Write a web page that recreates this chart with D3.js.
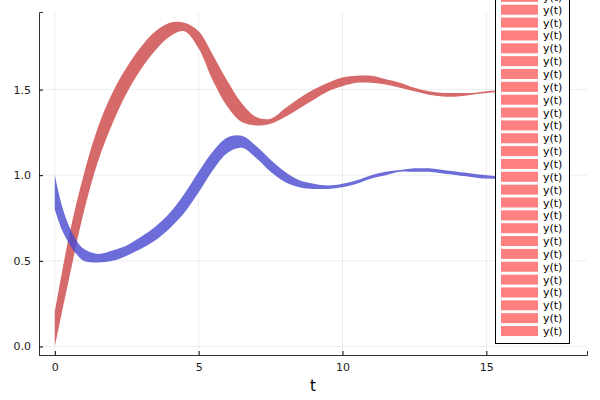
<!DOCTYPE html>
<html><head><meta charset="utf-8">
<script src="https://cdn.jsdelivr.net/npm/d3@7"></script>
<style>body{margin:0;background:#fff}text{font-family:"DejaVu Sans",sans-serif}</style>
</head><body><svg id="c" width="600" height="400"></svg>
<script>
const redT  = [0,0.5,1,1.5,2,2.5,3,3.5,4,4.5,5,5.5,6,6.5,7,7.5,8,8.5,9,9.5,10,10.5,11,11.5,12,12.5,13,13.5,14,14.5,15,16,17,17.5];
const redLo = [0,0.4,0.78,1.08,1.3,1.48,1.62,1.73,1.81,1.84,1.74,1.55,1.4,1.31,1.29,1.3,1.34,1.39,1.44,1.49,1.52,1.54,1.54,1.53,1.51,1.49,1.47,1.46,1.46,1.47,1.48,1.49,1.5,1.5];
const redHi = [0.2,0.65,1.0,1.28,1.48,1.63,1.75,1.84,1.89,1.89,1.84,1.7,1.55,1.42,1.34,1.33,1.39,1.45,1.5,1.54,1.57,1.58,1.58,1.56,1.54,1.51,1.49,1.48,1.48,1.48,1.49,1.5,1.51,1.51];
const blueT  = [0,0.25,0.5,0.75,1,1.5,2,2.5,3,3.5,4,4.5,5,5.5,6,6.5,7,7.5,8,8.5,9,9.5,10,10.5,11,11.5,12,12.5,13,13.5,14,15,16,17.5];
const blueLo = [0.8,0.68,0.6,0.54,0.5,0.49,0.5,0.53,0.57,0.62,0.69,0.78,0.9,1.03,1.13,1.16,1.1,1.02,0.96,0.93,0.92,0.92,0.93,0.95,0.98,1.0,1.02,1.02,1.02,1.01,1.0,0.98,0.98,0.99];
const blueHi = [1.0,0.82,0.7,0.62,0.57,0.54,0.56,0.59,0.64,0.7,0.78,0.89,1.02,1.14,1.22,1.23,1.17,1.09,1.02,0.97,0.95,0.94,0.95,0.97,1.0,1.02,1.03,1.04,1.04,1.03,1.02,1.0,0.99,1.0];
const xTicks = [0,5,10,15];
const yTicks = [0,0.5,1,1.5];
const legendCount = 28;

const svg = d3.select("#c");
const x = d3.scaleLinear().domain([-0.55,18.5]).range([39,587]);
const y = d3.scaleLinear().domain([-0.05,1.953]).range([355,12]);

// grid
svg.append("g").selectAll("line").data(xTicks).join("line")
  .attr("x1",d=>x(d)).attr("x2",d=>x(d)).attr("y1",12).attr("y2",355)
  .attr("stroke","#000").attr("stroke-opacity",0.07);
svg.append("g").selectAll("line").data(yTicks).join("line")
  .attr("y1",d=>y(d)).attr("y2",d=>y(d)).attr("x1",39).attr("x2",587)
  .attr("stroke","#000").attr("stroke-opacity",0.07);

function band(ts, lo, hi, col) {
  const pts = ts.map((t,i)=>({t, lo:lo[i], hi:hi[i]}));
  const area = d3.area().x(d=>x(d.t)).y0(d=>y(d.lo)).y1(d=>y(d.hi)).curve(d3.curveCatmullRom);
  svg.append("path").datum(pts).attr("d",area).attr("fill",col).attr("fill-opacity",0.8);
}
band(redT, redLo, redHi, "#cc4444");
band(blueT, blueLo, blueHi, "#4848d0");

// axes
const xa = svg.append("g").attr("transform","translate(0,355)")
  .call(d3.axisBottom(x).tickValues(xTicks).tickSize(-4).tickPadding(8).tickFormat(d3.format("d")));
const ya = svg.append("g").attr("transform","translate(39,0)")
  .call(d3.axisLeft(y).tickValues(yTicks).tickSize(-4).tickPadding(8).tickFormat(d3.format(".1f")));
[xa,ya].forEach(a=>{a.select(".domain").attr("stroke","#333");a.selectAll("text").attr("font-size",11).attr("fill","#222");});
svg.append("text").attr("x",313).attr("y",391).attr("text-anchor","middle").attr("font-size",15).text("t");

// legend
const lg = svg.append("g");
lg.append("rect").attr("x",495.5).attr("y",-10).attr("width",74).attr("height",353.5)
  .attr("fill","#fff").attr("stroke","#000");
const rows = d3.range(legendCount);
lg.selectAll("rect.s").data(rows).join("rect").attr("class","s")
  .attr("x",501).attr("width",37).attr("height",10)
  .attr("y",d=>331-(legendCount-1-d)*12.85-5).attr("fill","#ff8080");
lg.selectAll("text").data(rows).join("text")
  .attr("x",543).attr("y",d=>331-(legendCount-1-d)*12.85+4).attr("font-size",11).text("y(t)");
</script></body></html>
